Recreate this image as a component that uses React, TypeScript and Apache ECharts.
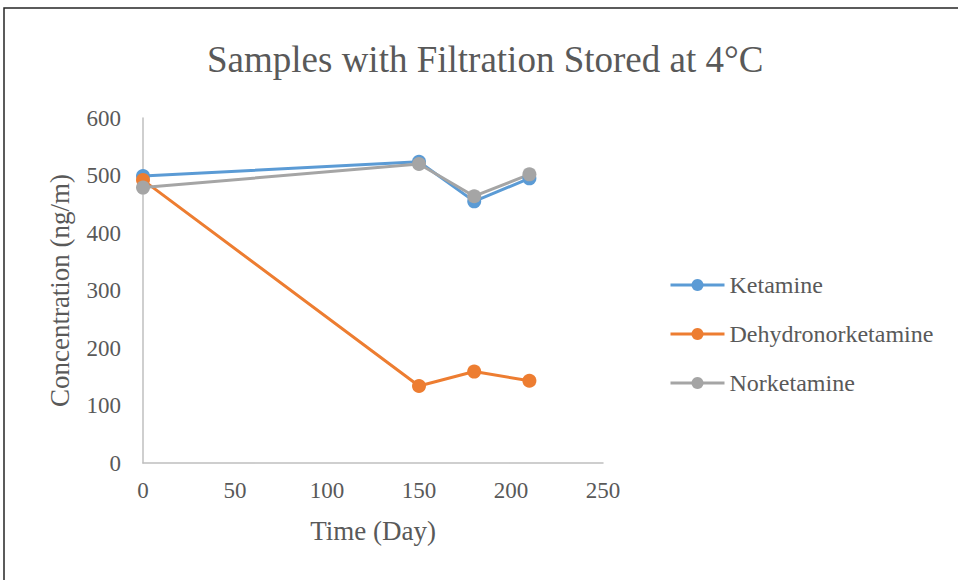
import React, { useEffect, useRef } from "react";
import * as echarts from "echarts";

const titleText = "Samples with Filtration Stored at 4°C";
const xAxisName = "Time (Day)";
const yAxisName = "Concentration (ng/m)";
const days = [0, 150, 180, 210];
const ketamine = [499, 524, 455, 495];
const dehydronorketamine = [492, 134, 159, 143];
const norketamine = [479, 520, 464, 502];
const seriesNames = ["Ketamine", "Dehydronorketamine", "Norketamine"];
const colors = ["#5B9BD5", "#ED7D31", "#A5A5A5"];

const FONT = "'Liberation Serif', 'Times New Roman', serif";
const TXT = "#595959";

export default function App() {
  const ref = useRef<HTMLDivElement>(null);
  useEffect(() => {
    document.body.style.margin = "0";
    const chart = echarts.init(ref.current!, null, { renderer: "svg" });
    const values = [ketamine, dehydronorketamine, norketamine];
    chart.setOption({
      animation: false,
      backgroundColor: "#ffffff",
      title: {
        text: titleText,
        left: 202,
        top: 36,
        textStyle: { fontFamily: FONT, fontSize: 37, fontWeight: "normal", color: TXT },
      },
      graphic: [
        {
          type: "rect",
          shape: { x: 4, y: 8, width: 1000, height: 700 },
          style: { fill: "none", stroke: "#262626", lineWidth: 1.5 },
          silent: true,
        },
      ],
      legend: {
        orient: "vertical",
        left: 664,
        top: 268,
        itemWidth: 54,
        itemHeight: 15,
        itemGap: 25,
        textStyle: { fontFamily: FONT, fontSize: 24, color: TXT },
        lineStyle: { width: 3 },
        data: seriesNames,
      },
      grid: { left: 143, right: 355, top: 118, bottom: 117 },
      xAxis: {
        type: "value",
        min: 0,
        max: 250,
        interval: 50,
        name: xAxisName,
        nameLocation: "middle",
        nameGap: 54,
        nameTextStyle: { fontFamily: FONT, fontSize: 27, color: TXT },
        axisLine: { lineStyle: { color: "#BFBFBF", width: 1.5 } },
        axisTick: { show: false },
        splitLine: { show: false },
        axisLabel: { fontFamily: FONT, fontSize: 23, color: TXT, margin: 16 },
      },
      yAxis: {
        type: "value",
        min: 0,
        max: 600,
        interval: 100,
        name: yAxisName,
        nameLocation: "middle",
        nameGap: 70,
        nameTextStyle: { fontFamily: FONT, fontSize: 27, color: TXT },
        axisLine: { show: true, lineStyle: { color: "#BFBFBF", width: 1.5 } },
        axisTick: { show: false },
        splitLine: { show: false },
        axisLabel: { fontFamily: FONT, fontSize: 23, color: TXT, margin: 22 },
      },
      series: seriesNames.map((name, i) => ({
        name,
        type: "line",
        data: days.map((d, j) => [d, values[i][j]]),
        symbol: "circle",
        symbolSize: 14,
        lineStyle: { width: 3, color: colors[i] },
        itemStyle: { color: colors[i] },
        color: colors[i],
      })),
    });
    return () => chart.dispose();
  }, []);
  return <div ref={ref} style={{ position: "absolute", left: 0, top: 0, width: 958, height: 580 }} />;
}
